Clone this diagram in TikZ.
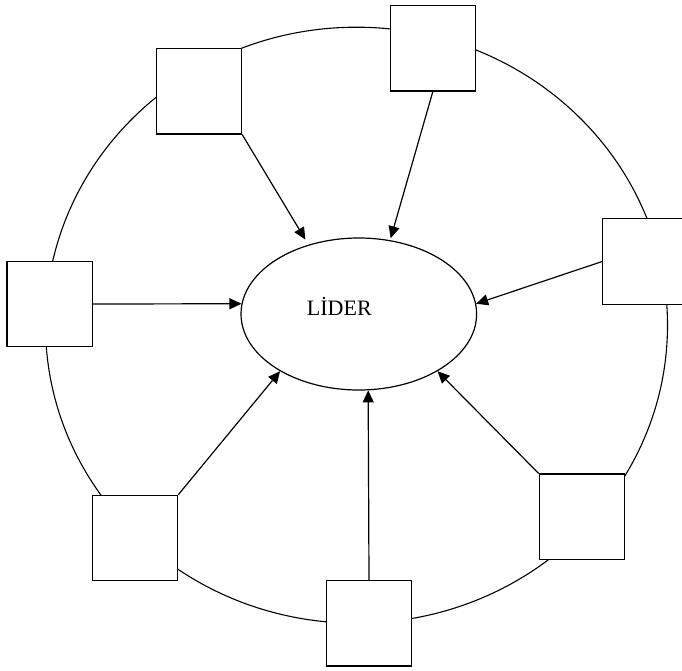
\documentclass[tikz,border=0pt]{standalone}
\usepackage{fontspec}
\setmainfont{Liberation Serif}
\usetikzlibrary{arrows.meta,shapes.geometric}

\tikzset{
  member/.style={draw, fill=white, line width=1.2pt, minimum width=85.5pt,
    minimum height=85.5pt, inner sep=0pt},
  leader/.style={draw, ellipse, line width=1.2pt, minimum width=235.6pt,
    minimum height=152pt, inner sep=0pt},
  link/.style={line width=1.2pt, -{Triangle[length=12pt,width=11pt]}},
}

\begin{document}
\begin{tikzpicture}[x=1pt, y=-1pt]
  \useasboundingbox (0,0) rectangle (682,670);

  % outer ring joining the members
  \draw[line width=1.1pt] (356.5,325.2) ellipse [x radius=311, y radius=298];

  % the leader in the middle
  \node[leader, label={[font=\fontsize{22}{25}\selectfont, xshift=-19.5pt, yshift=7.5pt]center:LİDER}]
    (lider) at (358.8,314) {};

  % group members around the ring
  \node[member] (m1) at (198.85,91.2) {};
  \node[member] (m2) at (432.85,48.2) {};
  \node[member] (m3) at (645.45,261.5) {};
  \node[member] (m4) at (49.65,304) {};
  \node[member] (m5) at (135,538) {};
  \node[member] (m6) at (369,623.2) {};
  \node[member] (m7) at (582,516.8) {};

  % every member points to the leader
  \draw[link, shorten >=6pt] (m1.south east) -- (lider.126.4);
  \draw[link, shorten >=2pt] (m2.south) -- (lider.67.2);
  \draw[link] (m3.west) -- (lider.5.2);
  \draw[link] (m4.east) -- (lider.175.2);
  \draw[link] (m5.north east) -- (lider.216.2);
  \draw[link] (m6.north) -- (lider.277.7);
  \draw[link] (m7.north west) -- (lider.324);
\end{tikzpicture}
\end{document}
